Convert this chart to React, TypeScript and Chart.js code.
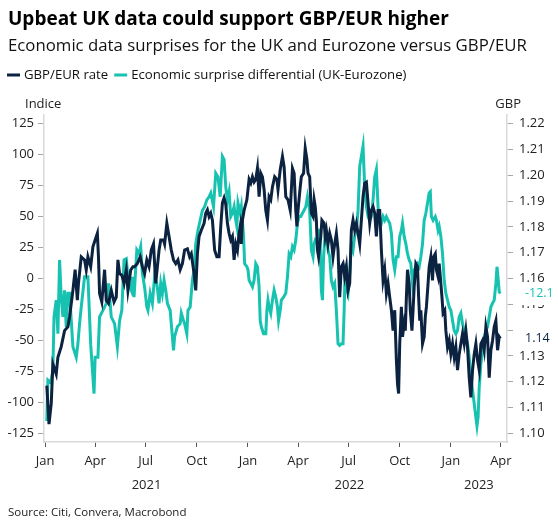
import React, { useEffect, useRef } from 'react';
import { Chart, registerables } from 'chart.js';

Chart.register(...registerables);

const FONT = '"Open Sans", "Noto Sans", sans-serif';
const NAVY = '#0b2240';
const TEAL = '#17c3b0';

const titleText = 'Upbeat UK data could support GBP/EUR higher';
const subtitleText = 'Economic data surprises for the UK and Eurozone versus GBP/EUR';
const sourceText = 'Source: Citi, Convera, Macrobond';
const rateLabel = 'GBP/EUR rate';
const surpriseLabel = 'Economic surprise differential (UK-Eurozone)';

const monthTickDates = ['2021-01-01', '2021-04-01', '2021-07-01', '2021-10-01', '2022-01-01', '2022-04-01', '2022-07-01', '2022-10-01', '2023-01-01', '2023-04-01'];
const monthTickLabels = ['Jan', 'Apr', 'Jul', 'Oct', 'Jan', 'Apr', 'Jul', 'Oct', 'Jan', 'Apr'];
const yearLabels = ['2021', '2022', '2023'];
const yearStarts = ['2021-01-01', '2022-01-01', '2023-01-01'];
const axisStart = '2020-12-30';
const axisEnd = '2023-04-12';

const leftTicks = [-125, -100, -75, -50, -25, 0, 25, 50, 75, 100, 125];
const rightTicks = [1.1, 1.11, 1.12, 1.13, 1.14, 1.15, 1.16, 1.17, 1.18, 1.19, 1.2, 1.21, 1.22];

const rateDates = [
  '2021-01-04','2021-01-08','2021-01-12','2021-01-15','2021-01-21','2021-01-24','2021-01-30','2021-02-05','2021-02-11','2021-02-14',
  '2021-02-20','2021-02-24','2021-02-28','2021-03-02','2021-03-07','2021-03-13','2021-03-16','2021-03-19','2021-03-24','2021-03-28',
  '2021-04-01','2021-04-05','2021-04-07','2021-04-09','2021-04-13','2021-04-18','2021-04-21','2021-04-25','2021-04-30','2021-05-05',
  '2021-05-09','2021-05-12','2021-05-15','2021-05-19','2021-05-23','2021-05-27','2021-05-30','2021-06-04','2021-06-08','2021-06-11',
  '2021-06-16','2021-06-21','2021-06-25','2021-06-29','2021-07-03','2021-07-07','2021-07-11','2021-07-15','2021-07-19','2021-07-22',
  '2021-07-25','2021-07-28','2021-08-02','2021-08-04','2021-08-08','2021-08-12','2021-08-16','2021-08-20','2021-08-24','2021-08-28',
  '2021-09-01','2021-09-05','2021-09-09','2021-09-14','2021-09-18','2021-09-21','2021-09-26','2021-09-29','2021-10-02','2021-10-05',
  '2021-10-09','2021-10-14','2021-10-17','2021-10-20','2021-10-23','2021-10-26','2021-10-29','2021-11-02','2021-11-06','2021-11-10',
  '2021-11-13','2021-11-16','2021-11-19','2021-11-22','2021-11-25','2021-11-28','2021-12-01','2021-12-04','2021-12-07','2021-12-10',
  '2021-12-13','2021-12-16','2021-12-18','2021-12-20','2021-12-22','2021-12-25','2021-12-30','2022-01-03','2022-01-06','2022-01-09',
  '2022-01-12','2022-01-15','2022-01-18','2022-01-21','2022-01-24','2022-01-27','2022-01-30','2022-02-02','2022-02-05','2022-02-08',
  '2022-02-11','2022-02-14','2022-02-18','2022-02-22','2022-02-24','2022-02-28','2022-03-04','2022-03-07','2022-03-10','2022-03-14',
  '2022-03-18','2022-03-20','2022-03-22','2022-03-25','2022-03-28','2022-03-30','2022-04-01','2022-04-05','2022-04-07','2022-04-11',
  '2022-04-14','2022-04-17','2022-04-19','2022-04-22','2022-04-25','2022-04-28','2022-04-30','2022-05-02','2022-05-04','2022-05-06',
  '2022-05-08','2022-05-12','2022-05-14','2022-05-18','2022-05-20','2022-05-22','2022-05-25','2022-05-28','2022-05-31','2022-06-03',
  '2022-06-06','2022-06-09','2022-06-12','2022-06-15','2022-06-18','2022-06-21','2022-06-24','2022-06-27','2022-06-30','2022-07-03',
  '2022-07-06','2022-07-09','2022-07-12','2022-07-15','2022-07-18','2022-07-21','2022-07-24','2022-07-27','2022-07-30','2022-08-02',
  '2022-08-05','2022-08-08','2022-08-11','2022-08-14','2022-08-17','2022-08-20','2022-08-23','2022-08-26','2022-08-29','2022-09-01',
  '2022-09-04','2022-09-07','2022-09-10','2022-09-13','2022-09-16','2022-09-19','2022-09-22','2022-09-25','2022-09-27','2022-09-29',
  '2022-10-01','2022-10-04','2022-10-06','2022-10-09','2022-10-11','2022-10-13','2022-10-15','2022-10-18','2022-10-20','2022-10-23',
  '2022-10-25','2022-10-27','2022-10-30','2022-11-02','2022-11-04','2022-11-06','2022-11-08','2022-11-11','2022-11-14','2022-11-16',
  '2022-11-18','2022-11-21','2022-11-23','2022-11-26','2022-11-29','2022-12-01','2022-12-04','2022-12-06','2022-12-09','2022-12-11',
  '2022-12-13','2022-12-16','2022-12-18','2022-12-21','2022-12-23','2022-12-26','2022-12-29','2023-01-01','2023-01-04','2023-01-07',
  '2023-01-10','2023-01-13','2023-01-16','2023-01-19','2023-01-22','2023-01-25','2023-01-28','2023-01-31','2023-02-03','2023-02-06',
  '2023-02-09','2023-02-12','2023-02-15','2023-02-18','2023-02-21','2023-02-24','2023-02-27','2023-03-02','2023-03-05','2023-03-08',
  '2023-03-11','2023-03-14','2023-03-17','2023-03-20','2023-03-23','2023-03-26','2023-03-29','2023-03-31'
];

const rateValues = [
  1.1185,1.1036,1.1115,1.1269,1.1230,1.1295,1.1336,1.1398,1.1413,1.1451,
  1.1554,1.1634,1.1516,1.1581,1.1684,1.1672,1.1633,1.1684,1.1646,1.1723,
  1.1749,1.1775,1.1684,1.1542,1.1509,1.1634,1.1516,1.1504,1.1554,1.1509,
  1.1528,1.1672,1.1619,1.1613,1.1581,1.1633,1.1554,1.1633,1.1646,1.1646,
  1.1658,1.1684,1.1646,1.1619,1.1672,1.1646,1.1710,1.1734,1.1581,1.1646,
  1.1710,1.1749,1.1749,1.1734,1.1814,1.1763,1.1710,1.1672,1.1658,1.1672,
  1.1634,1.1658,1.1710,1.1715,1.1684,1.1696,1.1619,1.1554,1.1696,1.1763,
  1.1787,1.1814,1.1853,1.1866,1.1840,1.1853,1.1826,1.1710,1.1684,1.1684,
  1.1802,1.1893,1.1912,1.1888,1.1814,1.1775,1.1749,1.1763,1.1672,1.1734,
  1.1710,1.1775,1.1802,1.1734,1.1826,1.1864,1.1905,1.1984,1.1970,1.1994,
  1.1974,1.1984,1.2027,1.1917,1.2008,1.1994,1.1944,1.1864,1.1826,1.1917,
  1.1905,1.1955,1.1994,1.1984,1.1944,1.2022,1.2073,1.2032,1.1917,1.1905,
  1.1864,1.1944,1.2027,1.2008,1.1864,1.1802,1.1864,1.1955,1.1994,1.2008,
  1.2104,1.2061,1.2008,1.1994,1.1853,1.1840,1.1905,1.1878,1.1826,1.1710,
  1.1684,1.1763,1.1826,1.1814,1.1763,1.1787,1.1734,1.1775,1.1749,1.1684,
  1.1734,1.1775,1.1710,1.1528,1.1646,1.1658,1.1607,1.1646,1.1554,1.1581,
  1.1787,1.1826,1.1787,1.1814,1.1775,1.1734,1.1826,1.1917,1.1970,1.1974,
  1.1893,1.1814,1.1864,1.1878,1.1853,1.1763,1.1864,1.1864,1.1710,1.1593,
  1.1634,1.1542,1.1581,1.1528,1.1477,1.1398,1.1477,1.1283,1.1192,1.1154,
  1.1347,1.1490,1.1374,1.1425,1.1398,1.1528,1.1634,1.1581,1.1477,1.1398,
  1.1477,1.1567,1.1658,1.1646,1.1528,1.1437,1.1477,1.1347,1.1374,1.1451,
  1.1490,1.1581,1.1646,1.1684,1.1593,1.1684,1.1696,1.1634,1.1607,1.1658,
  1.1607,1.1528,1.1466,1.1477,1.1398,1.1334,1.1360,1.1307,1.1347,1.1295,
  1.1334,1.1245,1.1307,1.1347,1.1386,1.1347,1.1398,1.1334,1.1216,1.1139,
  1.1245,1.1307,1.1347,1.1283,1.1245,1.1347,1.1360,1.1322,1.1413,1.1374,
  1.1216,1.1322,1.1360,1.1413,1.1437,1.1322,1.1374,1.1367
];

const surpriseDates = [
  '2021-01-04','2021-01-06','2021-01-11','2021-01-15','2021-01-17','2021-01-21','2021-01-24','2021-01-27','2021-01-30','2021-02-02',
  '2021-02-05','2021-02-08','2021-02-11','2021-02-14','2021-02-20','2021-02-26','2021-03-01','2021-03-04','2021-03-07','2021-03-13',
  '2021-03-19','2021-03-24','2021-03-30','2021-04-01','2021-04-06','2021-04-09','2021-04-15','2021-04-21','2021-04-25','2021-04-30',
  '2021-05-06','2021-05-11','2021-05-15','2021-05-19','2021-05-23','2021-05-27','2021-05-31','2021-06-05','2021-06-07','2021-06-10',
  '2021-06-15','2021-06-19','2021-06-22','2021-06-25','2021-06-29','2021-07-03','2021-07-05','2021-07-09','2021-07-13','2021-07-17',
  '2021-07-21','2021-07-25','2021-07-28','2021-07-31','2021-08-03','2021-08-06','2021-08-09','2021-08-14','2021-08-16','2021-08-20',
  '2021-08-22','2021-08-27','2021-09-01','2021-09-03','2021-09-07','2021-09-09','2021-09-13','2021-09-15','2021-09-19','2021-09-23',
  '2021-09-26','2021-09-29','2021-10-03','2021-10-07','2021-10-11','2021-10-15','2021-10-19','2021-10-23','2021-10-26','2021-10-31',
  '2021-11-04','2021-11-08','2021-11-12','2021-11-16','2021-11-19','2021-11-22','2021-11-25','2021-11-28','2021-12-01','2021-12-04',
  '2021-12-07','2021-12-10','2021-12-12','2021-12-14','2021-12-18','2021-12-20','2021-12-24','2021-12-26','2021-12-30','2022-01-01',
  '2022-01-03','2022-01-06','2022-01-09','2022-01-12','2022-01-15','2022-01-18','2022-01-21','2022-01-23','2022-01-25','2022-01-29',
  '2022-02-02','2022-02-04','2022-02-06','2022-02-08','2022-02-11','2022-02-14','2022-02-17','2022-02-20','2022-02-23','2022-02-25',
  '2022-02-28','2022-03-02','2022-03-06','2022-03-10','2022-03-13','2022-03-16','2022-03-19','2022-03-22','2022-03-25','2022-03-28',
  '2022-03-31','2022-04-03','2022-04-06','2022-04-09','2022-04-12','2022-04-15','2022-04-18','2022-04-22','2022-04-25','2022-04-28',
  '2022-04-30','2022-05-02','2022-05-06','2022-05-08','2022-05-10','2022-05-13','2022-05-15','2022-05-17','2022-05-20','2022-05-22',
  '2022-05-25','2022-05-28','2022-05-31','2022-06-03','2022-06-06','2022-06-09','2022-06-12','2022-06-15','2022-06-18','2022-06-21',
  '2022-06-23','2022-06-25','2022-06-27','2022-06-30','2022-07-03','2022-07-06','2022-07-09','2022-07-12','2022-07-15','2022-07-18',
  '2022-07-21','2022-07-24','2022-07-27','2022-07-30','2022-08-02','2022-08-05','2022-08-08','2022-08-11','2022-08-14','2022-08-17',
  '2022-08-20','2022-08-23','2022-08-26','2022-08-29','2022-09-01','2022-09-04','2022-09-07','2022-09-10','2022-09-13','2022-09-16',
  '2022-09-19','2022-09-22','2022-09-25','2022-09-28','2022-10-01','2022-10-04','2022-10-06','2022-10-09','2022-10-12','2022-10-15',
  '2022-10-18','2022-10-21','2022-10-24','2022-10-27','2022-10-30','2022-11-02','2022-11-05','2022-11-08','2022-11-11','2022-11-14',
  '2022-11-17','2022-11-20','2022-11-23','2022-11-25','2022-11-27','2022-11-30','2022-12-04','2022-12-06','2022-12-09','2022-12-11',
  '2022-12-14','2022-12-17','2022-12-20','2022-12-23','2022-12-26','2022-12-29','2023-01-01','2023-01-04','2023-01-07','2023-01-10',
  '2023-01-13','2023-01-16','2023-01-19','2023-01-22','2023-01-25','2023-01-28','2023-01-31','2023-02-03','2023-02-06','2023-02-09',
  '2023-02-12','2023-02-15','2023-02-17','2023-02-19','2023-02-21','2023-02-24','2023-02-27','2023-03-02','2023-03-05','2023-03-08',
  '2023-03-11','2023-03-14','2023-03-17','2023-03-20','2023-03-23','2023-03-25','2023-03-27','2023-03-29','2023-03-31'
];

const surpriseValues = [
  -115,-82,-84,-74,-31,-17.5,-44.6,15,-15,-31,
  -9.5,-39,-12,-12,-55,-63.5,-52.7,-36.5,-23,1.4,
  1.4,-53,-93,-63.5,-63.5,-31,-25.7,-20,-4,-31,
  -36.5,-55,-34,-25.7,15,16,-4,-9.5,1.4,-15,
  23,20,25.7,4,-7,-23,-25.7,-12,-20,1.4,
  -4,-20,-4,-12,-1.4,-9.5,-20,-25.7,-36.5,-58,
  -47,-39,-36.5,-28,-34,-36.5,-44.6,-25.7,-23,-1.4,
  7,28,39,47,55,58,63.5,66,69,58,
  85,82,66,98.6,96,74,63.5,70,50,52.7,
  58,47,42,61,52.7,58,34,12,9.5,7,
  -1.4,-4,-6.8,-1.4,12,9.5,-6.8,-34,-39,-44.6,
  -44.6,-25.7,-17.5,-23,-28,-17.5,-9.5,-15,-23,-34,
  -25.7,-17.5,-15,-12,1.4,20,17.6,25.7,23,31,
  44.6,50,50,52.7,55,58,66,55,23,17.6,
  28,31,28,39,39,-9.5,-17.5,17.6,36.5,36.5,
  23,17.6,-1.4,-6.8,-4,-25.7,-52.7,-54,-52.7,-52.7,
  -25.7,12,-6.8,-12,4,28,23,34,39,55,
  90.5,98.6,106.8,74,58,50,47,50,63.5,82,
  88,58,47,44.6,50,47,50,47,44.6,36.5,
  15,7,17.6,17.6,34,39,44.6,34,28,20,
  15,12,-4,6.8,9.5,12,9.5,17.6,28,47,
  52.7,61,69,70,50,47,50,47,39,42,
  34,20,-1.4,-12,-17.5,-23,-25.7,-34,-42,-44.6,
  -42,-31,-28,-36.5,-42,-47,-52.7,-63.5,-80,-90,
  -101,-112,-119,-112,-88,-69,-58,-47,-42,-39,
  -31,-23,-20,-17.5,-4,9.5,0,-10.8,-12.1
];

const DAY_MS = 86400000;
const ORIGIN = Date.UTC(2021, 0, 1);
const toDay = (s: string) => {
  const [y, m, d] = s.split('-').map(Number);
  return (Date.UTC(y, m - 1, d) - ORIGIN) / DAY_MS;
};

// Right axis is tied to the left one: 0 <-> 1.16, 25 units <-> 0.012
const LEFT_MIN = -132;
const LEFT_MAX = 132;
const toRight = (v: number) => 1.16 + v * 0.00048;

const textPlugin = {
  id: 'textPlugin',
  afterDraw(chart: any) {
    const ctx = chart.ctx as CanvasRenderingContext2D;
    const area = chart.chartArea;
    const xs = chart.scales.x;
    const yr = chart.scales.y2;
    const yl = chart.scales.y;
    ctx.save();
    ctx.textBaseline = 'middle';
    // title
    ctx.fillStyle = '#000';
    ctx.font = `bold 19px ${FONT}`;
    ctx.textAlign = 'left';
    ctx.fillText(titleText, 8, 20);
    ctx.fillStyle = '#111';
    ctx.font = `16.8px ${FONT}`;
    ctx.fillText(subtitleText, 8, 46);
    // legend
    ctx.font = `13.2px ${FONT}`;
    ctx.lineWidth = 3;
    let lx = 7;
    const ly = 75;
    ctx.strokeStyle = NAVY;
    ctx.beginPath(); ctx.moveTo(lx, ly); ctx.lineTo(lx + 13, ly); ctx.stroke();
    lx += 17;
    ctx.fillStyle = '#111';
    ctx.fillText(rateLabel, lx, ly);
    lx += ctx.measureText(rateLabel).width + 6;
    ctx.strokeStyle = TEAL;
    ctx.beginPath(); ctx.moveTo(lx, ly); ctx.lineTo(lx + 13, ly); ctx.stroke();
    lx += 17;
    ctx.fillText(surpriseLabel, lx, ly);
    // axis titles
    ctx.font = `13px ${FONT}`;
    ctx.fillStyle = '#222';
    ctx.fillText('Indice', 25, 104);
    ctx.textAlign = 'right';
    ctx.fillText('GBP', 521, 104);
    // years
    ctx.textAlign = 'center';
    yearLabels.forEach((yl2, i) => {
      const a = Math.max(xs.getPixelForValue(toDay(yearStarts[i])), area.left);
      const b = i + 1 < yearStarts.length ? xs.getPixelForValue(toDay(yearStarts[i + 1])) : area.right;
      ctx.fillText(yl2, (a + b) / 2, 485);
    });
    // source
    ctx.textAlign = 'left';
    ctx.font = `11.5px ${FONT}`;
    ctx.fillText(sourceText, 8, 513);
    // last value labels
    const labels = [
      { y: yl.getPixelForValue(surpriseValues[surpriseValues.length - 1]), text: surpriseValues[surpriseValues.length - 1].toFixed(1), color: TEAL },
      { y: yr.getPixelForValue(rateValues[rateValues.length - 1]), text: rateValues[rateValues.length - 1].toFixed(2), color: NAVY },
    ];
    ctx.font = `12.5px ${FONT}`;
    labels.forEach((l) => {
      let top = l.y - 11.5;
      let bottom = l.y + 11.5;
      rightTicks.forEach((t) => {
        const py = yr.getPixelForValue(t);
        if (Math.abs(py - l.y) < 10.5) {
          top = Math.min(top, py - 9);
          bottom = Math.max(bottom, py + 9);
        }
      });
      ctx.fillStyle = '#fff';
      ctx.fillRect(area.right + 11, top, 558 - area.right - 11, bottom - top);
      ctx.fillStyle = l.color;
      ctx.textAlign = 'left';
      ctx.fillText(l.text, 525, l.y);
    });
    ctx.restore();
  },
};

export default function App() {
  const ref = useRef<HTMLCanvasElement | null>(null);
  useEffect(() => {
    document.body.style.margin = '0';
    const canvas = ref.current;
    if (!canvas) return;
    const chart = new Chart(canvas, {
      type: 'line',
      data: {
        datasets: [
          {
            label: rateLabel,
            data: rateDates.map((d, i) => ({ x: toDay(d), y: rateValues[i] })),
            borderColor: NAVY,
            backgroundColor: NAVY,
            borderWidth: 3,
            pointRadius: 0,
            yAxisID: 'y2',
            tension: 0,
          },
          {
            label: surpriseLabel,
            data: surpriseDates.map((d, i) => ({ x: toDay(d), y: surpriseValues[i] })),
            borderColor: TEAL,
            backgroundColor: TEAL,
            borderWidth: 3,
            pointRadius: 0,
            yAxisID: 'y',
            tension: 0,
          },
        ],
      },
      options: {
        animation: false,
        responsive: false,
        layout: { padding: { top: 115, left: 0, right: 0, bottom: 0 } },
        plugins: { legend: { display: false }, title: { display: false }, tooltip: { enabled: false } },
        scales: {
          x: {
            type: 'linear',
            min: toDay(axisStart),
            max: toDay(axisEnd),
            afterBuildTicks: (s: any) => {
              s.ticks = monthTickDates.map((d) => ({ value: toDay(d) }));
            },
            afterFit: (s: any) => { s.height = 78; },
            ticks: {
              autoSkip: false,
              maxRotation: 0,
              padding: 6,
              color: '#222',
              font: { family: FONT, size: 13 },
              callback: (_v: any, i: number) => monthTickLabels[i],
            },
            grid: { drawOnChartArea: false, drawTicks: true, tickLength: 5, color: '#555' },
            border: { color: '#d9d9d9', width: 1.5 },
          },
          y: {
            position: 'left',
            min: LEFT_MIN,
            max: LEFT_MAX,
            afterBuildTicks: (s: any) => { s.ticks = leftTicks.map((v) => ({ value: v })); },
            afterFit: (s: any) => { s.width = 44; },
            ticks: { padding: 4, color: '#222', font: { family: FONT, size: 13 } },
            grid: { drawOnChartArea: false, tickLength: 6, color: '#a6a6a6' },
            border: { color: '#d9d9d9', width: 1.5 },
          },
          y2: {
            position: 'right',
            min: toRight(LEFT_MIN),
            max: toRight(LEFT_MAX),
            afterBuildTicks: (s: any) => { s.ticks = rightTicks.map((v) => ({ value: v })); },
            afterFit: (s: any) => { s.width = 51; },
            ticks: { padding: 6, color: '#222', font: { family: FONT, size: 13 }, callback: (v: any) => Number(v).toFixed(2) },
            grid: { drawOnChartArea: false, tickLength: 6, color: '#a6a6a6' },
            border: { color: '#d9d9d9', width: 1.5 },
          },
        },
      },
      plugins: [textPlugin],
    } as any);
    return () => chart.destroy();
  }, []);
  return (
    <div style={{ width: 558, height: 520, background: '#fff' }}>
      <canvas ref={ref} width={558} height={520} style={{ display: 'block' }} />
    </div>
  );
}
